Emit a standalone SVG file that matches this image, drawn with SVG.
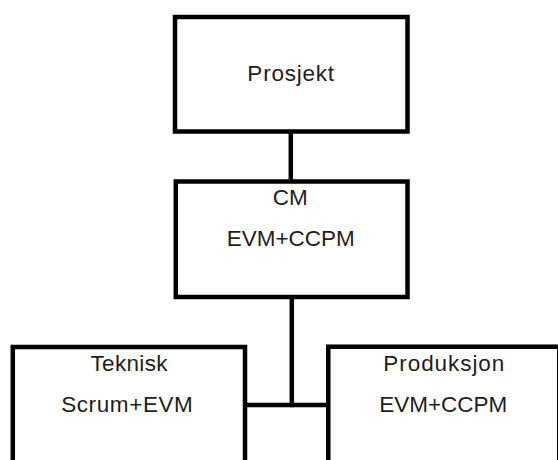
<svg xmlns="http://www.w3.org/2000/svg" width="558" height="460" viewBox="0 0 558 460">
  <style>
    .box { fill: #ffffff; stroke: #000000; stroke-width: 4.5; stroke-linejoin: miter; }
    .link { stroke: #000000; stroke-width: 4.5; fill: none; stroke-linecap: butt; }
    .label { font-family: "Liberation Sans", Arial, sans-serif; font-size: 22.5px; fill: #1e1e1e; text-anchor: middle; }
  </style>
  <rect width="558" height="460" fill="#ffffff"/>

  <g id="connectors">
    <line class="link" x1="290.8" y1="131.5" x2="290.8" y2="181.5"/>
    <line class="link" x1="291.8" y1="297" x2="291.8" y2="407.2"/>
    <line class="link" x1="245" y1="405" x2="328.3" y2="405"/>
  </g>

  <g id="prosjekt">
    <rect class="box" x="175" y="17" width="232.5" height="114.5"/>
    <text class="label" x="290.7" y="81" textLength="86.7" font-size="24">Prosjekt</text>
  </g>

  <g id="cm">
    <rect class="box" x="175.8" y="181.5" width="231.7" height="115.5"/>
    <text class="label" x="290.2" y="205" textLength="35">CM</text>
    <text class="label" x="290.8" y="246" textLength="128">EVM+CCPM</text>
  </g>

  <g id="teknisk">
    <rect class="box" x="12.8" y="347" width="232.2" height="130"/>
    <text class="label" x="129" y="371" textLength="77">Teknisk</text>
    <text class="label" x="127" y="411.7" textLength="131.7">Scrum+EVM</text>
  </g>

  <g id="produksjon">
    <rect class="box" x="328.3" y="346.7" width="231" height="130"/>
    <text class="label" x="443.8" y="371" textLength="121">Produksjon</text>
    <text class="label" x="443.3" y="411.7" textLength="128">EVM+CCPM</text>
  </g>
</svg>
